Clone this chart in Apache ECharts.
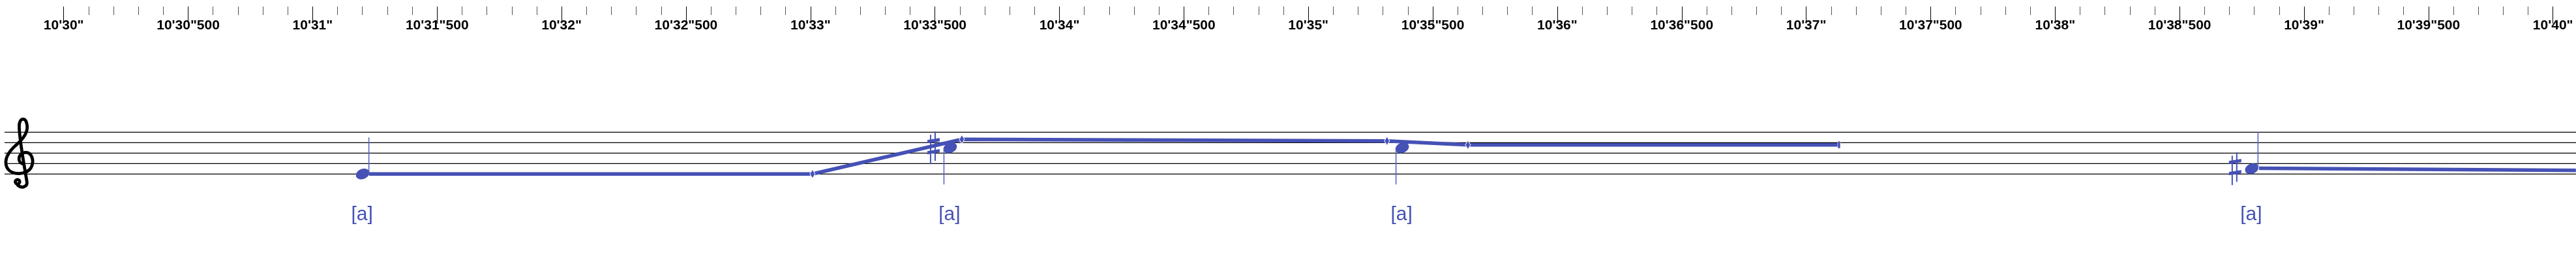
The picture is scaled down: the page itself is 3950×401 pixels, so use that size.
<!DOCTYPE html>
<html>
<head>
<meta charset="utf-8">
<script src="https://cdn.jsdelivr.net/npm/echarts@6/dist/echarts.min.js"></script>
<style>
html,body{margin:0;padding:0;background:#fff;}
#chart{width:3950px;height:401px;}
</style>
</head>
<body>
<div id="chart"></div>
<script>
// ---------- data ----------
// time ruler (seconds; 630 s = 10'30")
const rulerMin = 630;
const rulerMax = 640;
const rulerInterval = 0.5;
const tickLabels = ["10'30\"","10'30\"500","10'31\"","10'31\"500","10'32\"","10'32\"500",
  "10'33\"","10'33\"500","10'34\"","10'34\"500","10'35\"","10'35\"500","10'36\"","10'36\"500",
  "10'37\"","10'37\"500","10'38\"","10'38\"500","10'39\"","10'39\"500","10'40\""];

// staff: diatonic steps above E4 (E4=0, G4=2, B4=4, D5=6, F5=8)
const staffSteps = [0, 2, 4, 6, 8];

// notes
const noteTimes = [631.201, 633.561, 635.377, 638.790];
const noteSteps = [0, 5, 5, 1];
const noteAccidentals = ['', 'sharp', '', 'sharp'];
const noteStems = ['up', 'down', 'down', 'up'];
const noteLyrics = ['[a]', '[a]', '[a]', '[a]'];

// pitch contour (time, diatonic step)
const contour1Times = [631.227, 633.008, 633.608, 635.316, 635.641, 637.132];
const contour1Steps = [0.0, 0.0, 6.63, 6.33, 5.58, 5.58];
const contour1Marks = ['none', 'diamond', 'diamond', 'diamond', 'diamond', 'cap'];
const contour2Times = [638.819, 640.092];
const contour2Steps = [1.1, 0.7];

// ---------- styles / layout ----------
const BLUE = '#4551B5';
const STEM_BLUE = '#5560C0';
const PX_PER_SEC = 381.7;
const RULER_LEFT = 97.7;
const W = 3950;
const CLEF_PATH = 'M 28 72 C 20 70 20 56 32 54 C 44 53 47 68 42 78 C 36 90 10 92 3 78 C -3 64 8 50 20 40 C 30 31 38 20 35 8 C 33 -2 25 -2 23 8 C 21 22 30 70 35 100 C 37 110 26 112 20 106 M 23.5 101 A 3.5 3.5 0 1 1 16.5 101 A 3.5 3.5 0 1 1 23.5 101 Z';

const chart = echarts.init(document.getElementById('chart'), null, {renderer: 'canvas'});

const staffXMin = rulerMin - RULER_LEFT / PX_PER_SEC;
const staffXMax = rulerMin + (W - RULER_LEFT) / PX_PER_SEC;

function markSymbol(m) {
  if (m === 'diamond') return {symbol: 'diamond', symbolSize: [8, 14]};
  if (m === 'cap') return {symbol: 'rect', symbolSize: [4, 12]};
  return {symbol: 'none', symbolSize: 0};
}

const contour1Data = contour1Times.map((t, i) => Object.assign({value: [t, contour1Steps[i]]}, markSymbol(contour1Marks[i])));
const contour2Data = contour2Times.map((t, i) => ({value: [t, contour2Steps[i]], symbol: 'none'}));

const noteData = noteTimes.map((t, i) => [t, noteSteps[i], i]);

function renderStaff(params, api) {
  const y = api.coord([staffXMin, api.value(0)])[1];
  const cs = params.coordSys;
  return {
    type: 'line',
    shape: {x1: cs.x + 7, y1: y, x2: cs.x + cs.width, y2: y},
    style: {stroke: '#000', lineWidth: 1.3}
  };
}

function renderClef(params, api) {
  const top = api.coord([staffXMin, 8])[1];
  return {
    type: 'path',
    shape: {pathData: CLEF_PATH, x: 9, y: top - 21, width: 41, height: 106},
    style: {fill: null, stroke: '#000', lineWidth: 4.8, lineCap: 'round', lineJoin: 'round'}
  };
}

function renderNote(params, api) {
  const i = api.value(2);
  const p = api.coord([api.value(0), api.value(1)]);
  const cx = p[0], cy = p[1];
  const stepPx = api.size([0, 1])[1];
  const stemLen = 7 * stepPx;
  const children = [];
  // head
  children.push({
    type: 'circle',
    shape: {cx: 0, cy: 0, r: 7.8},
    x: cx, y: cy, scaleX: 10.8 / 7.8, scaleY: 1, rotation: 0.38,
    style: {fill: BLUE}
  });
  // stem
  if (noteStems[i] === 'up') {
    children.push({type: 'line', shape: {x1: cx + 9.5, y1: cy - 1, x2: cx + 9.5, y2: cy - stemLen},
      style: {stroke: STEM_BLUE, lineWidth: 1.5}});
  } else {
    children.push({type: 'line', shape: {x1: cx - 9.5, y1: cy + 1, x2: cx - 9.5, y2: cy + stemLen},
      style: {stroke: STEM_BLUE, lineWidth: 1.5}});
  }
  // accidental
  if (noteAccidentals[i] === 'sharp') {
    const sx = cx - 26;
    children.push({type: 'line', shape: {x1: sx - 4, y1: cy - 20, x2: sx - 4, y2: cy + 25}, style: {stroke: BLUE, lineWidth: 2}});
    children.push({type: 'line', shape: {x1: sx + 3, y1: cy - 25, x2: sx + 3, y2: cy + 20}, style: {stroke: BLUE, lineWidth: 2}});
    children.push({type: 'polygon', shape: {points: [[sx - 9, cy - 12], [sx + 10, cy - 15], [sx + 10, cy - 10], [sx - 9, cy - 7]]}, style: {fill: BLUE}});
    children.push({type: 'polygon', shape: {points: [[sx - 9, cy + 5], [sx + 10, cy + 2], [sx + 10, cy + 7], [sx - 9, cy + 10]]}, style: {fill: BLUE}});
  }
  // lyric
  const base = api.coord([api.value(0), 0])[1];
  children.push({
    type: 'text',
    x: cx - 1, y: base + 62,
    style: {text: noteLyrics[i], fill: BLUE, fontSize: 30,
      fontFamily: '"Liberation Sans Narrow", "Liberation Sans", Arial, sans-serif',
      align: 'center', verticalAlign: 'middle'}
  });
  return {type: 'group', children: children};
}

const option = {
  backgroundColor: '#fff',
  animation: false,
  grid: [
    {left: RULER_LEFT, width: (rulerMax - rulerMin) * PX_PER_SEC, top: 0, height: 10},
    {left: 0, right: 0, top: 106.3, bottom: 54.7}
  ],
  xAxis: [
    {
      type: 'value', gridIndex: 0, position: 'top',
      min: rulerMin, max: rulerMax, interval: rulerInterval,
      axisLine: {show: false},
      axisTick: {show: true, inside: true, length: 26, lineStyle: {color: '#000', width: 1}},
      minorTick: {show: true, splitNumber: 5, length: 13, lineStyle: {color: '#555', width: 1}},
      splitLine: {show: false},
      axisLabel: {
        inside: true, margin: 29, color: '#000', fontSize: 21, fontWeight: 'bold',
        fontFamily: '"Liberation Sans", Arial, sans-serif',
        showMinLabel: true, showMaxLabel: true,
        formatter: function (v) { return tickLabels[Math.round((v - rulerMin) / rulerInterval)] || ''; }
      }
    },
    {
      type: 'value', gridIndex: 1, min: staffXMin, max: staffXMax, show: false
    }
  ],
  yAxis: [
    {type: 'value', gridIndex: 0, show: false},
    {type: 'value', gridIndex: 1, min: -10, max: 20, show: false}
  ],
  series: [
    {
      type: 'custom', xAxisIndex: 1, yAxisIndex: 1, data: staffSteps.map(s => [s]),
      renderItem: renderStaff, clip: false, z: 1, silent: true
    },
    {
      type: 'custom', xAxisIndex: 1, yAxisIndex: 1, data: [[0]],
      renderItem: renderClef, clip: false, z: 2, silent: true
    },
    {
      type: 'line', xAxisIndex: 1, yAxisIndex: 1, data: contour1Data,
      lineStyle: {color: BLUE, width: 5.5}, itemStyle: {color: BLUE, borderColor: '#fff', borderWidth: 1},
      showSymbol: true, showAllSymbol: true, z: 4, silent: true
    },
    {
      type: 'line', xAxisIndex: 1, yAxisIndex: 1, data: contour2Data,
      lineStyle: {color: BLUE, width: 5.5}, itemStyle: {color: BLUE}, z: 4, silent: true
    },
    {
      type: 'custom', xAxisIndex: 1, yAxisIndex: 1, data: noteData,
      renderItem: renderNote, clip: false, z: 3, silent: true
    }
  ]
};
chart.setOption(option);
</script>
</body>
</html>
